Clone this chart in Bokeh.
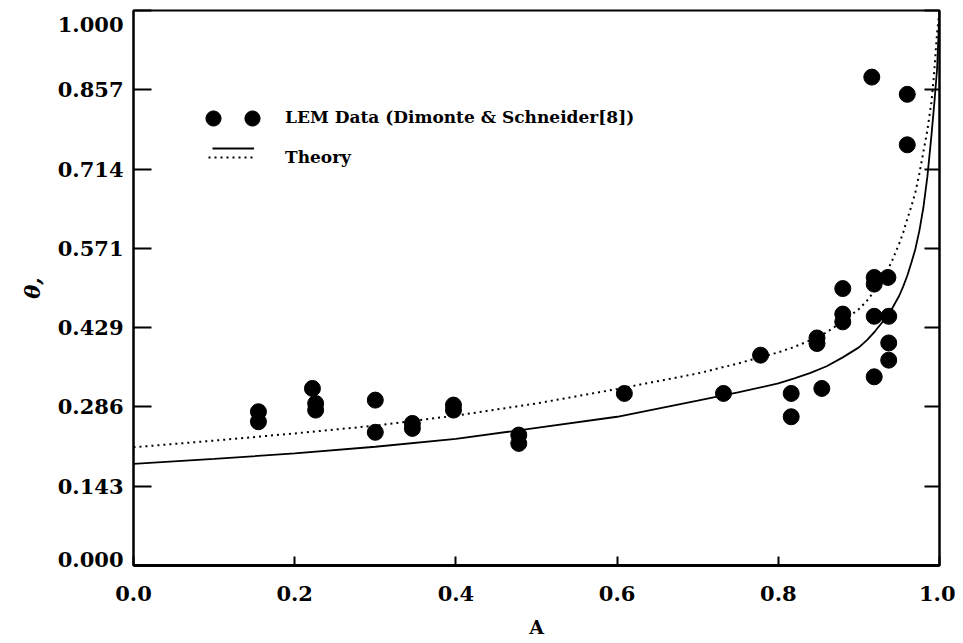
from bokeh.plotting import figure
from bokeh.models import (Range1d, LinearAxis, FixedTicker, NumeralTickFormatter,
                          Legend, LegendItem)
from bokeh.core.properties import value
from bokeh.embed import file_html
from bokeh.resources import INLINE

# ---- data ----
lem_A = [0.155, 0.155, 0.222, 0.226, 0.226, 0.300, 0.300, 0.346, 0.346,
         0.397, 0.397, 0.478, 0.478, 0.609, 0.732, 0.778, 0.816, 0.816,
         0.848, 0.848, 0.854, 0.880, 0.880, 0.880, 0.916, 0.919, 0.919,
         0.919, 0.919, 0.936, 0.937, 0.937, 0.937, 0.960, 0.960]
lem_theta = [0.277, 0.259, 0.319, 0.292, 0.280, 0.298, 0.240, 0.256, 0.247,
             0.289, 0.280, 0.235, 0.220, 0.310, 0.310, 0.379, 0.310, 0.268,
             0.410, 0.400, 0.319, 0.499, 0.453, 0.439, 0.880, 0.519, 0.507,
             0.449, 0.340, 0.519, 0.449, 0.401, 0.370, 0.849, 0.758]

theory_solid_A = [0.0, 0.1, 0.2, 0.3, 0.4, 0.5, 0.6, 0.7, 0.75, 0.80, 0.82,
                  0.84, 0.86, 0.88, 0.90, 0.91, 0.92, 0.93, 0.94, 0.95, 0.955,
                  0.96, 0.965, 0.97, 0.975, 0.98, 0.985, 0.99, 0.994, 0.997,
                  1.0]
theory_solid_theta = [0.183, 0.192, 0.202, 0.214, 0.228, 0.248, 0.268, 0.297,
                      0.312, 0.328, 0.337, 0.347, 0.359, 0.375, 0.393, 0.406,
                      0.422, 0.440, 0.460, 0.486, 0.503, 0.522, 0.545, 0.570,
                      0.603, 0.645, 0.701, 0.775, 0.840, 0.895, 1.0]

theory_dot_A = [0.0, 0.1, 0.2, 0.3, 0.4, 0.5, 0.6, 0.7, 0.75, 0.80, 0.82,
                0.84, 0.86, 0.88, 0.90, 0.91, 0.92, 0.93, 0.94, 0.95, 0.955,
                0.96, 0.965, 0.97, 0.975, 0.98, 0.985, 0.99, 0.993, 0.997,
                1.0]
theory_dot_theta = [0.213, 0.225, 0.238, 0.252, 0.270, 0.292, 0.318, 0.346,
                    0.364, 0.384, 0.394, 0.406, 0.420, 0.440, 0.462, 0.477,
                    0.496, 0.518, 0.545, 0.580, 0.600, 0.624, 0.647, 0.672,
                    0.706, 0.745, 0.785, 0.835, 0.881, 0.960, 1.0]

x_ticks = [0.0, 0.2, 0.4, 0.6, 0.8, 1.0]
y_ticks = [0.000, 0.143, 0.286, 0.429, 0.571, 0.714, 0.857, 1.000]
y_tick_labels = ["0.000", "0.143", "0.286", "0.429", "0.571", "0.714",
                 "0.857", "1.000"]

legend_lem = "LEM Data (Dimonte & Schneider[8])"
legend_theory = "Theory"

FONT = "DejaVu Serif"
TICK_SIZE = "21px"

p = figure(width=955, height=640, output_backend="svg", toolbar_location=None,
           x_range=Range1d(0, 1), y_range=Range1d(0, 1),
           min_border_left=133, min_border_right=16, min_border_top=10,
           min_border_bottom=72, x_axis_label="A", y_axis_label="θ,")
p.grid.visible = False
p.outline_line_color = "black"
p.outline_line_width = 2

# axes styling
xa = p.xaxis[0]
ya = p.yaxis[0]
xa.ticker = FixedTicker(ticks=x_ticks)
xa.formatter = NumeralTickFormatter(format="0.0")
ya.ticker = FixedTicker(ticks=y_ticks)
# end labels sit inside the canvas, as in the reference
overrides = {}
for i, t in enumerate(y_ticks):
    if i == 0:
        overrides[t] = y_tick_labels[i] + "\n"
    elif i == len(y_ticks) - 1:
        overrides[t] = "\n" + y_tick_labels[i]
    else:
        overrides[t] = y_tick_labels[i]
ya.major_label_overrides = overrides
ya.major_label_text_line_height = 0.45
for ax in (xa, ya):
    ax.minor_tick_line_color = None
    ax.major_tick_out = 0
    ax.axis_line_color = "black"
    ax.major_tick_line_color = "black"
    ax.major_tick_line_width = 2
    ax.major_label_text_font = FONT
    ax.major_label_text_font_style = "bold"
    ax.major_label_text_font_size = TICK_SIZE
    ax.major_label_text_color = "black"
    ax.axis_label_text_font = FONT
    ax.axis_label_text_font_style = "bold"
    ax.axis_label_text_color = "black"
xa.axis_line_width = 3
ya.axis_line_width = 2
xa.major_tick_in = 9
ya.major_tick_in = 18
xa.major_label_standoff = 20
ya.major_label_standoff = 10
xa.axis_label_standoff = 12
ya.axis_label_standoff = 10
xa.axis_label_text_font_size = "19px"
ya.axis_label_text_font_size = "21px"
ya.axis_label_text_font_style = "bold italic"

ra = LinearAxis(ticker=FixedTicker(ticks=y_ticks))
ra.minor_tick_line_color = None
ra.major_tick_out = 0
ra.major_tick_in = 15
ra.major_tick_line_width = 2
ra.axis_line_width = 2
ra.major_label_text_color = None
p.add_layout(ra, "right")

# data
pts = p.scatter(lem_A, lem_theta, size=16, color="black")
solid = p.line(theory_solid_A, theory_solid_theta, line_color="black",
               line_width=1.8)
dotted = p.line(theory_dot_A, theory_dot_theta, line_color="black",
                line_width=2, line_dash="2 4")
dummy = p.line(x=[], y=[], line_alpha=0)

def make_legend(items, loc, gw, gh, spacing=0, standoff=0):
    leg = Legend(items=items, location=loc, glyph_width=gw, glyph_height=gh,
                 label_height=gh, spacing=spacing, padding=0, margin=0,
                 label_standoff=standoff, border_line_alpha=0,
                 background_fill_alpha=0)
    leg.label_text_font = FONT
    leg.label_text_font_style = "bold"
    leg.label_text_font_size = "17px"
    leg.label_text_baseline = "alphabetic"
    leg.label_text_color = "black"
    p.add_layout(leg)
    return leg

# text legend + dotted line
make_legend([LegendItem(label=value(legend_lem), renderers=[dummy]),
             LegendItem(label=value(legend_theory), renderers=[dotted])],
            (75, 396), 46, 24, spacing=16, standoff=31)
# two dots
make_legend([LegendItem(label=value(""), renderers=[pts])], (61, 428), 38, 38)
make_legend([LegendItem(label=value(""), renderers=[pts])], (100, 428), 38, 38)
# solid line
make_legend([LegendItem(label=value(""), renderers=[solid])], (79, 405), 42, 24)

open("out.html", "w").write(file_html(p, INLINE))
